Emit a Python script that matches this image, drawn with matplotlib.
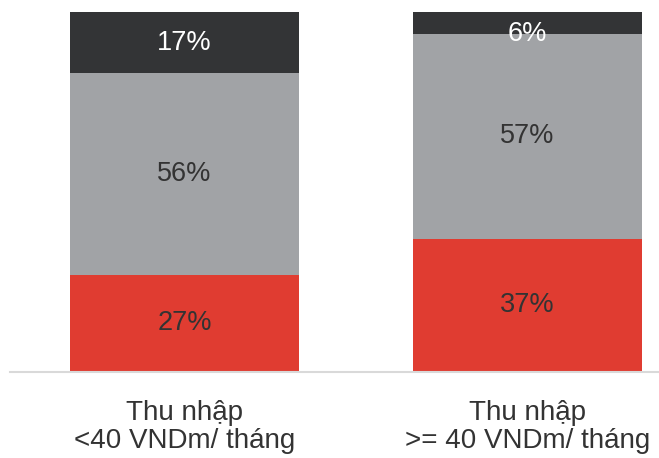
import matplotlib
matplotlib.use("Agg")
import matplotlib.pyplot as plt

plt.rcParams['font.family'] = ['Liberation Sans', 'DejaVu Sans']

categories = ["Thu nhập\n<40 VNDm/ tháng", "Thu nhập\n>= 40 VNDm/ tháng"]
bottom_share = [27, 37]
middle_share = [56, 57]
top_share = [17, 6]

red = "#E03C31"
gray = "#A1A3A6"
dark = "#333436"
text_dark = "#333333"

fig = plt.figure(figsize=(6.59, 4.58), dpi=100)
ax = fig.add_axes([10 / 659, 86 / 458, 649 / 659, 360 / 458])

x = list(range(len(categories)))
width = 0.668

ax.bar(x, bottom_share, width, color=red)
mid_base = bottom_share
ax.bar(x, middle_share, width, bottom=mid_base, color=gray)
top_base = [b + m for b, m in zip(bottom_share, middle_share)]
ax.bar(x, top_share, width, bottom=top_base, color=dark)

label_size = 19.5
for i in x:
    ax.text(i, bottom_share[i] / 2, f"{bottom_share[i]}%", ha="center", va="center",
            fontsize=label_size, color=text_dark)
    ax.text(i, mid_base[i] + middle_share[i] / 2, f"{middle_share[i]}%", ha="center",
            va="center", fontsize=label_size, color=text_dark)
    ty = top_base[i] + top_share[i] / 2
    if top_share[i] < 10:
        # thin segment: label sits on the boundary
        ty = top_base[i]
    ax.text(i, ty, f"{top_share[i]}%", ha="center", va="center",
            fontsize=label_size, color="white")

ax.set_xlim(-0.5087, 1.3834)
ax.set_ylim(0, 100)
ax.set_xticks(x)
ax.set_xticklabels(categories, fontsize=20, color=text_dark, linespacing=1.1)
ax.tick_params(axis="x", length=0, pad=20.5)
ax.set_yticks([])
for side in ["top", "right", "left"]:
    ax.spines[side].set_visible(False)
ax.spines["bottom"].set_color("#D9D9D9")
ax.spines["bottom"].set_linewidth(1.5)

fig.savefig("out.png", dpi=100)
